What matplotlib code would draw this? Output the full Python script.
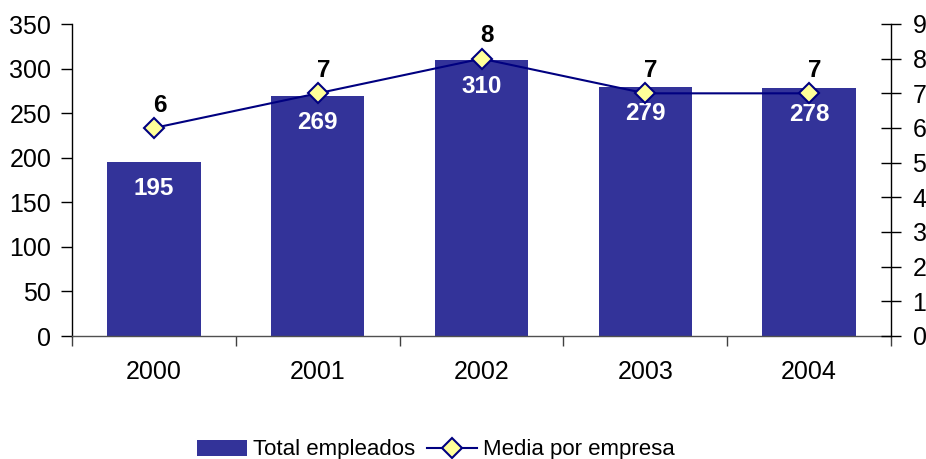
import matplotlib
matplotlib.use("Agg")
import matplotlib.pyplot as plt
import numpy as np

years = ["2000", "2001", "2002", "2003", "2004"]
total_empleados = [195, 269, 310, 279, 278]
media_empresa = [6, 7, 8, 7, 7]
left_ticks = [0, 50, 100, 150, 200, 250, 300, 350]
right_ticks = [0, 1, 2, 3, 4, 5, 6, 7, 8, 9]

plt.rcParams['font.family'] = ['Liberation Sans', 'DejaVu Sans']
FS = 18
LFS = 17.5
LEGFS = 16
BAR_COLOR = "#333399"
LINE_COLOR = "#000080"
MARKER_FILL = "#FFFF99"

fig = plt.figure(figsize=(9.26, 4.59), dpi=100)
ax = fig.add_axes([72/926, 1-336/459, (891-72)/926, (336-24)/459])
ax2 = ax.twinx()

x = np.arange(len(years))
bars = ax.bar(x, total_empleados, width=0.57, color=BAR_COLOR, zorder=2,
              label="Total empleados")
ax.set_xlim(-0.5, len(years) - 0.5)
ax.set_ylim(0, 350)
ax.set_yticks(left_ticks)
ax.set_xticks(x)
ax.set_xticklabels(years)
ax.set_xticks(np.arange(-0.5, len(years)), minor=True)
ax.tick_params(axis='x', which='major', length=0, labelsize=FS, pad=17)
ax.tick_params(axis='x', which='minor', length=7, width=1, direction='out', color='#404040')
ax.tick_params(axis='y', length=8, width=1, direction='out', labelsize=FS, pad=7)
for s in ['top', 'right']:
    ax.spines[s].set_visible(False)
ax.spines['left'].set_linewidth(1)
ax.spines['bottom'].set_linewidth(1)
ax.spines['bottom'].set_color('#505050')

for xi, v in zip(x, total_empleados):
    ax.annotate(str(v), (xi, v), xytext=(0, -19), textcoords='offset points',
                ha='center', va='center', color='white', fontsize=LFS,
                fontweight='bold', zorder=5)

line, = ax2.plot(x, media_empresa, color=LINE_COLOR, lw=1.5, marker='D',
                 markersize=10, markerfacecolor=MARKER_FILL,
                 markeredgecolor=LINE_COLOR, markeredgewidth=1.5, zorder=4,
                 label="Media por empresa")
ax2.set_ylim(0, 9)
ax2.set_yticks(right_ticks)
ax2.tick_params(axis='y', length=15, width=1, direction='inout', labelsize=FS, pad=8)
for s in ['top', 'left', 'bottom']:
    ax2.spines[s].set_visible(False)
ax2.spines['right'].set_linewidth(1)

for xi, v in zip(x, media_empresa):
    ax2.annotate(str(v), (xi, v), xytext=(4, 16.5), textcoords='offset points',
                 ha='center', va='center', color='black', fontsize=LFS,
                 fontweight='bold', zorder=5)

fig.legend(handles=[bars, line], loc='center', bbox_to_anchor=(436/926, 1-450/459),
           ncol=2, frameon=False, fontsize=LEGFS, handlelength=2.25,
           handleheight=0.76, handletextpad=0.27, columnspacing=0.54,
           borderpad=0, borderaxespad=0)

fig.savefig("out.png", dpi=100)
